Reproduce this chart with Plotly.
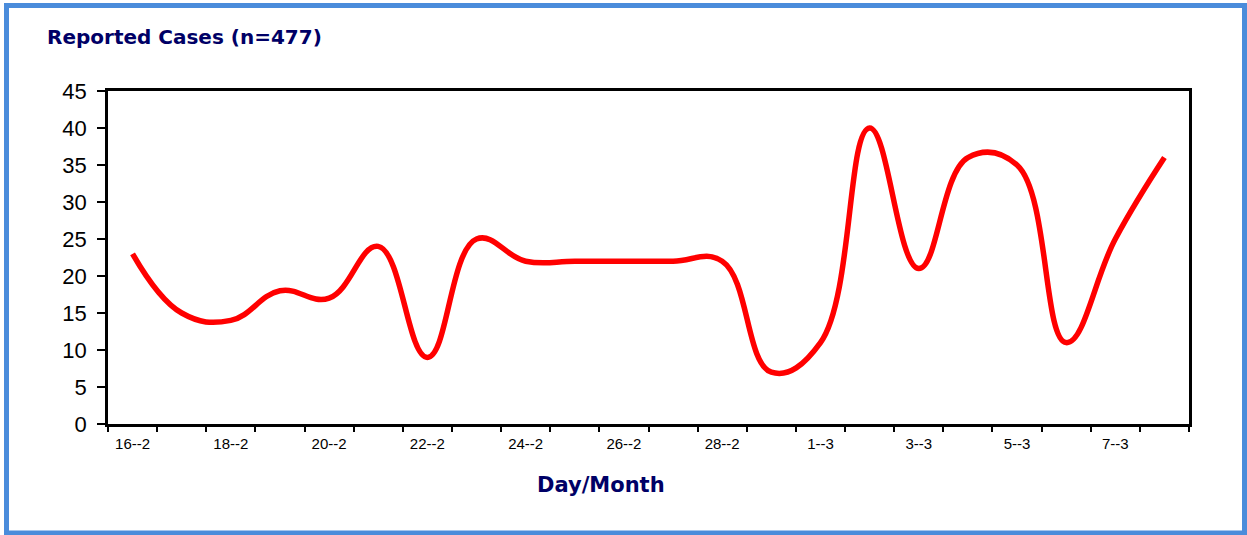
import plotly.graph_objects as go

# Daily reported cases, 16 Feb – 8 Mar
days = ["16--2", "17--2", "18--2", "19--2", "20--2", "21--2", "22--2", "23--2",
        "24--2", "25--2", "26--2", "27--2", "28--2", "29--2",
        "1--3", "2--3", "3--3", "4--3", "5--3", "6--3", "7--3", "8--3"]
cases = [23, 15, 14, 18, 17, 24, 9, 25,
         22, 22, 22, 22, 22, 7,
         11, 40, 21, 36, 35, 11, 25, 36]

# every other day gets a label
tick_text = [d if i % 2 == 0 else "" for i, d in enumerate(days)]

W, H = 1247, 535
L, R, T, B = 108, 1189, 91, 424   # plot-area pixel box


def px(x):
    return (x - L) / (R - L)


def py(y):
    return (B - y) / (B - T)


NAVY = "#000066"
BLUE = "#4A8CDB"

fig = go.Figure(
    go.Scatter(
        x=days, y=cases, mode="lines",
        line=dict(color="#FF0000", width=5.5, shape="spline", smoothing=1.2),
        hoverinfo="x+y",
    )
)

fig.update_layout(
    width=W, height=H,
    margin=dict(l=L, r=W - R, t=T, b=H - B),
    paper_bgcolor="white", plot_bgcolor="white",
    showlegend=False,
    font=dict(family="Liberation Sans, Arial, sans-serif", color="black"),
)

fig.update_xaxes(
    type="category", range=[-0.5, len(days) - 0.5],
    tickmode="array", tickvals=days, ticktext=tick_text,
    tickson="boundaries", ticks="outside", ticklen=5, tickwidth=1.5, tickcolor="black",
    tickfont=dict(size=15, color="black"), ticklabelstandoff=4,
    showline=True, linecolor="black", linewidth=2.5, mirror=True,
    showgrid=False, zeroline=False,
)

fig.update_yaxes(
    range=[0, 45], dtick=5,
    ticks="outside", ticklen=8, tickwidth=1.5, tickcolor="black",
    tickfont=dict(size=22, color="black"), ticklabelstandoff=6,
    showline=True, linecolor="black", linewidth=2.5, mirror=True,
    showgrid=False, zeroline=False,
)

fig.add_annotation(
    text="<b>Reported Cases (n=477)</b>", xref="paper", yref="paper",
    x=px(45), y=py(37), xanchor="left", yanchor="middle", showarrow=False,
    font=dict(family="DejaVu Sans, Verdana, sans-serif", size=20, color=NAVY),
)
fig.add_annotation(
    text="<b>Day/Month</b>", xref="paper", yref="paper",
    x=px(601), y=py(485), xanchor="center", yanchor="middle", showarrow=False,
    font=dict(family="DejaVu Sans, Verdana, sans-serif", size=21, color=NAVY),
)

# outer frame
fig.add_shape(
    type="rect", xref="paper", yref="paper",
    x0=px(6.5), x1=px(1244.5), y0=py(5.5), y1=py(533),
    line=dict(color=BLUE, width=5), fillcolor="rgba(0,0,0,0)", layer="above",
)

fig.write_html("out.html")
